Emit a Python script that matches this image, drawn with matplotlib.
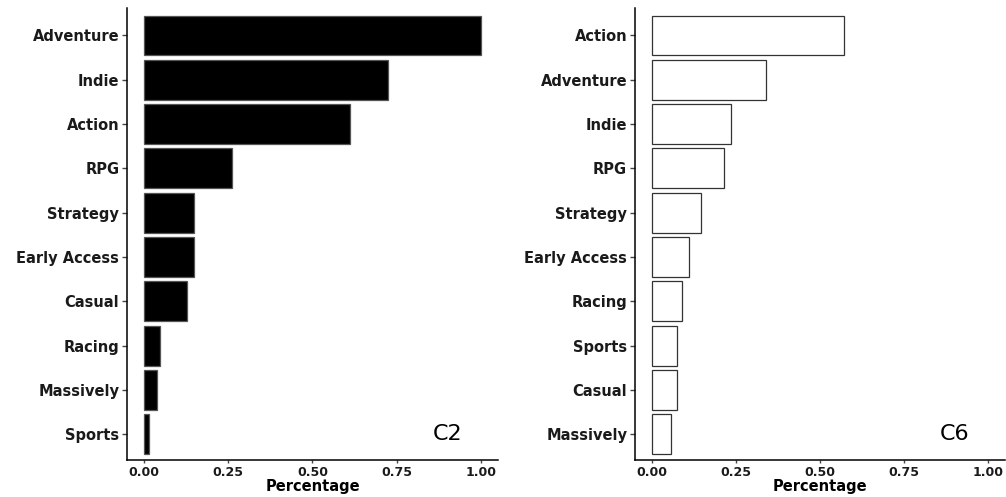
import matplotlib
matplotlib.use("Agg")
from matplotlib import pyplot as plt

# C2 cluster genre shares (top to bottom)
c2_genres = ["Adventure", "Indie", "Action", "RPG", "Strategy", "Early Access",
             "Casual", "Racing", "Massively", "Sports"]
c2_values = [1.00, 0.724, 0.61, 0.262, 0.149, 0.149, 0.129, 0.048, 0.040, 0.016]

# C6 cluster genre shares (top to bottom)
c6_genres = ["Action", "Adventure", "Indie", "RPG", "Strategy", "Early Access",
             "Racing", "Sports", "Casual", "Massively"]
c6_values = [0.573, 0.341, 0.235, 0.216, 0.146, 0.110, 0.090, 0.074, 0.074, 0.057]

x_ticks = [0.0, 0.25, 0.5, 0.75, 1.0]
x_tick_labels = ["0.00", "0.25", "0.50", "0.75", "1.00"]

plt.rcParams.update({
    "font.family": ["DejaVu Sans"],
    "axes.spines.top": False,
    "axes.spines.right": False,
})


def draw_panel(ax, genres, values, face, edge, tag):
    n = len(genres)
    pos = list(range(n - 1, -1, -1))
    ax.barh(pos, values, height=0.9, color=face, edgecolor=edge, linewidth=0.9)
    ax.set_yticks(pos)
    ax.set_yticklabels(genres, fontsize=10.5, fontweight="bold", color="#1a1a1a")
    ax.set_xticks(x_ticks)
    ax.set_xticklabels(x_tick_labels, fontsize=9, fontweight="bold", color="#1a1a1a")
    ax.set_xlim(-0.05, 1.05)
    ax.set_ylim(-0.58, n - 1 + 0.62)
    ax.set_xlabel("Percentage", fontsize=10.5, fontweight="bold", labelpad=0)
    ax.tick_params(axis="y", direction="out", length=3.5, width=1, color="#444444", pad=2)
    ax.tick_params(axis="x", direction="out", length=2.5, width=1, color="#444444", pad=1.5)
    for side in ("left", "bottom"):
        ax.spines[side].set_linewidth(1.1)
        ax.spines[side].set_color("black")
    ax.text(0.9, 0, tag, fontsize=16, ha="center", va="center")


fig = plt.figure(figsize=(10.06, 4.97), dpi=100)
ax1 = fig.add_axes([0.1262, 0.0744, 0.3688, 0.9095])
ax2 = fig.add_axes([0.631, 0.0744, 0.368, 0.9095])

draw_panel(ax1, c2_genres, c2_values, "black", "#555555", "C2")
draw_panel(ax2, c6_genres, c6_values, "white", "#333333", "C6")

fig.savefig("out.png", dpi=100)
